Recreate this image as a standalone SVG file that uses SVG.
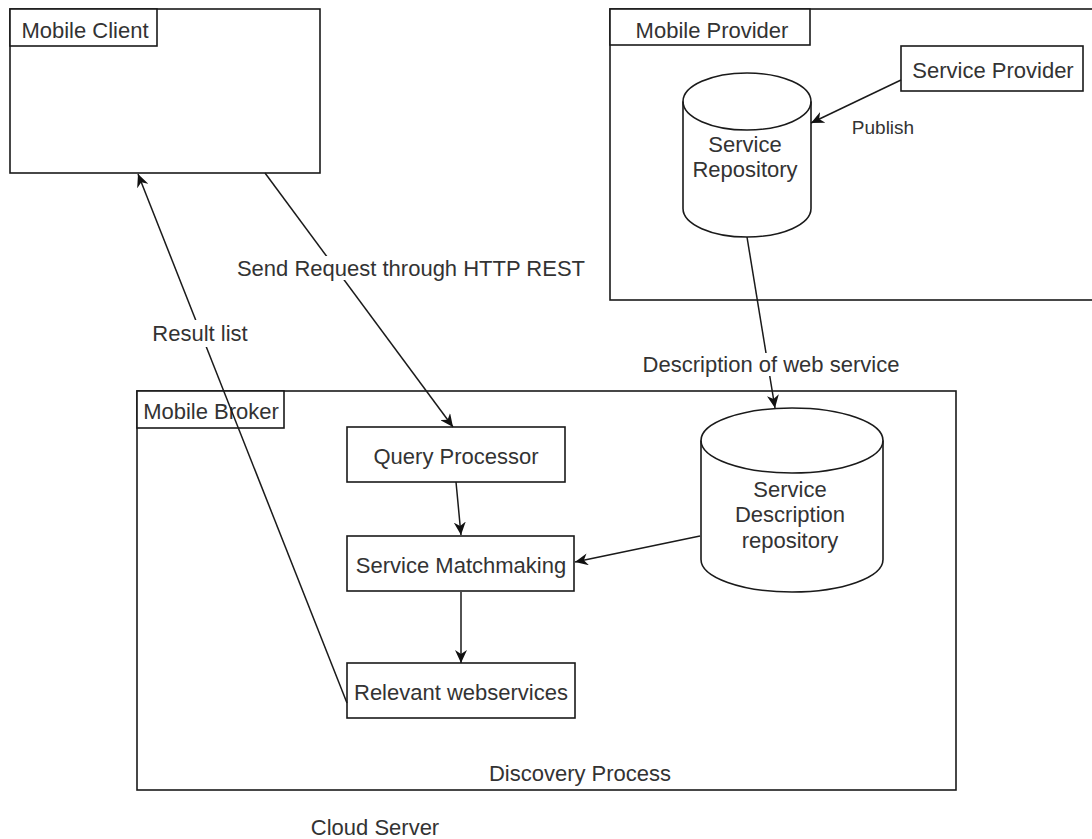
<svg xmlns="http://www.w3.org/2000/svg" width="1092" height="839" viewBox="0 0 1092 839">
  <style>
    .box { fill: #ffffff; stroke: #1a1a1a; stroke-width: 1.6; }
    .hdr { fill: #ffffff; stroke: #1a1a1a; stroke-width: 1.6; }
    .t { font-family: "Liberation Sans", Arial, Helvetica, sans-serif; font-size: 22px; fill: #333333; text-anchor: middle; }
    .small { font-size: 19px; }
    .edge { fill: none; stroke: #1a1a1a; stroke-width: 1.5; marker-end: url(#arrow); }
    .lblbg { fill: #ffffff; }
  </style>
  <defs>
    <marker id="arrow" markerUnits="userSpaceOnUse" markerWidth="14" markerHeight="12" viewBox="0 0 14 12" refX="13" refY="6" orient="auto">
      <path d="M0,0 L13,6 L0,12 L4,6 Z" fill="#111111"/>
    </marker>
  </defs>
  <rect width="1092" height="839" fill="#ffffff"/>

  <!-- containers -->
  <g id="mobile-client">
    <rect class="box" x="10" y="9" width="310" height="164"/>
    <rect class="hdr" x="10" y="9" width="147" height="37"/>
    <text class="t" x="85" y="38">Mobile Client</text>
  </g>

  <g id="mobile-provider">
    <rect class="box" x="610" y="9" width="492" height="291"/>
    <rect class="hdr" x="610" y="9" width="200" height="36"/>
    <text class="t" x="712" y="38">Mobile Provider</text>
  </g>

  <g id="mobile-broker">
    <rect class="box" x="137" y="391" width="819" height="399"/>
    <rect class="hdr" x="137" y="391" width="147" height="37"/>
    <text class="t" x="211" y="419">Mobile Broker</text>
    <text class="t" x="580" y="781">Discovery Process</text>
  </g>

  <!-- nodes -->
  <g id="service-provider">
    <rect class="box" x="901" y="46" width="182" height="45"/>
    <text class="t" x="993" y="78">Service Provider</text>
  </g>

  <g id="service-repository">
    <path class="box" d="M683,101.5 A64,28.5 0 0 1 811,101.5 L811,208.5 A64,28.5 0 0 1 683,208.5 Z"/>
    <path fill="none" stroke="#1a1a1a" stroke-width="1.6" d="M683,101.5 A64,28.5 0 0 0 811,101.5"/>
    <text class="t" x="745" y="152">Service</text>
    <text class="t" x="745" y="177">Repository</text>
  </g>

  <g id="service-description-repository">
    <path class="box" d="M701,440.5 A91,32.5 0 0 1 883,440.5 L883,559.5 A91,32.5 0 0 1 701,559.5 Z"/>
    <path fill="none" stroke="#1a1a1a" stroke-width="1.6" d="M701,440.5 A91,32.5 0 0 0 883,440.5"/>
    <text class="t" x="790" y="497">Service</text>
    <text class="t" x="790" y="522">Description</text>
    <text class="t" x="790" y="548">repository</text>
  </g>

  <g id="query-processor">
    <rect class="box" x="347" y="427" width="218" height="55"/>
    <text class="t" x="456" y="464">Query Processor</text>
  </g>

  <g id="service-matchmaking">
    <rect class="box" x="347" y="536" width="227" height="55"/>
    <text class="t" x="461" y="573">Service Matchmaking</text>
  </g>

  <g id="relevant-webservices">
    <rect class="box" x="347" y="663" width="228" height="55"/>
    <text class="t" x="461" y="700">Relevant webservices</text>
  </g>

  <g id="cloud-server">
    <text class="t" x="375" y="835">Cloud Server</text>
  </g>

  <!-- connectors -->
  <g id="connectors">
    <line class="edge" x1="901" y1="80" x2="811" y2="123"/>
    <text class="t small" x="883" y="134">Publish</text>

    <line class="edge" x1="747" y1="237" x2="775" y2="408"/>
    <rect class="lblbg" x="642" y="353" width="260" height="23"/>
    <text class="t" x="771" y="372">Description of web service</text>

    <line class="edge" x1="265" y1="173" x2="453" y2="427"/>
    <rect class="lblbg" x="236" y="256" width="351" height="24"/>
    <text class="t" x="411" y="276">Send Request through HTTP REST</text>

    <line class="edge" x1="347" y1="703" x2="138" y2="174"/>
    <rect class="lblbg" x="151" y="320" width="99" height="27"/>
    <text class="t" x="200" y="341">Result list</text>

    <line class="edge" x1="456" y1="482" x2="461" y2="535"/>
    <line class="edge" x1="461" y1="592" x2="461" y2="663"/>
    <line class="edge" x1="700" y1="536" x2="575" y2="562"/>
  </g>
</svg>
